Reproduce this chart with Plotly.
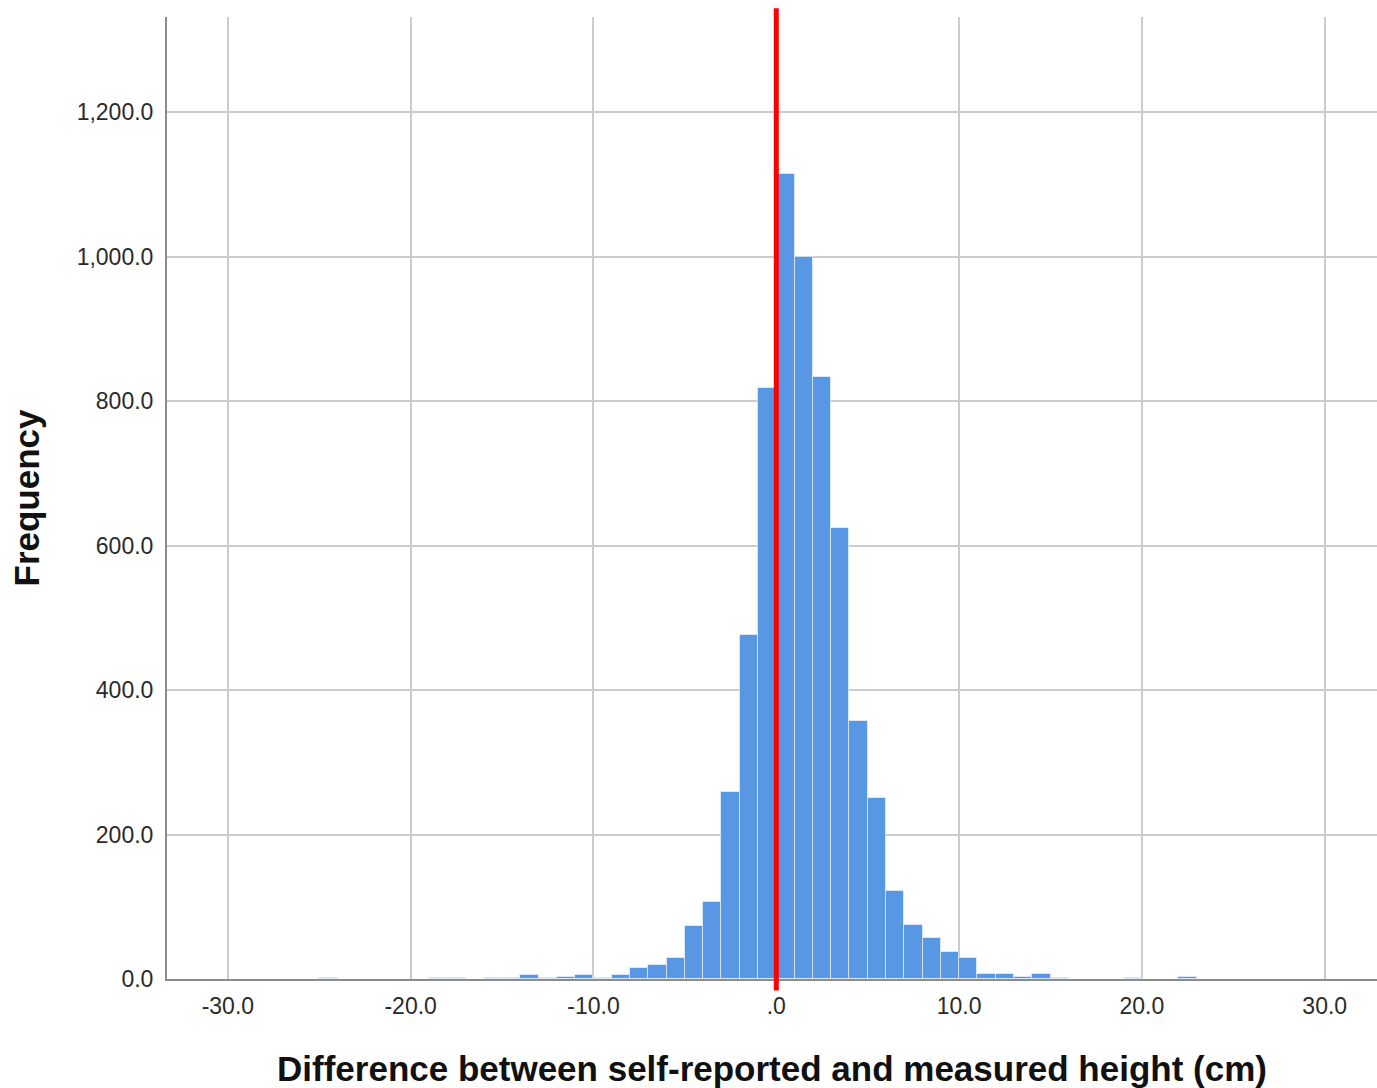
import plotly.graph_objects as go

# Histogram bins (left edge, width 1 cm) and frequencies
bin_left = [-25, -19, -18, -16, -15, -14, -13, -12, -11, -10, -9, -8, -7, -6, -5, -4, -3, -2, -1,
            0, 1, 2, 3, 4, 5, 6, 7, 8, 9, 10, 11, 12, 13, 14, 15, 19, 22]
counts = [1, 1, 1, 1, 2, 5, 1, 3, 6, 2, 5, 15, 19, 29, 74, 106, 259, 476, 819,
          1115, 1000, 834, 625, 357, 250, 122, 75, 57, 38, 29, 7, 7, 3, 7, 1, 1, 3]
bin_width = 1.0

x_ticks = [-30, -20, -10, 0, 10, 20, 30]
x_ticktext = ["-30.0", "-20.0", "-10.0", ".0", "10.0", "20.0", "30.0"]
y_ticks = [0, 200, 400, 600, 800, 1000, 1200]
y_ticktext = ["0.0", "200.0", "400.0", "600.0", "800.0", "1,000.0", "1,200.0"]
ref_x = 0

centers = [b + bin_width / 2 for b in bin_left]

fig = go.Figure()
fig.add_trace(go.Bar(
    x=centers, y=counts, width=bin_width,
    marker=dict(color="#5797e3", line=dict(color="rgba(255,255,255,0.55)", width=1)),
    hoverinfo="x+y",
))

fig.add_shape(type="line", xref="x", yref="paper", x0=ref_x, x1=ref_x, y0=-0.012, y1=1.009,
              line=dict(color="#ff0000", width=5), layer="above")

font_family = "Liberation Sans, Arial, sans-serif"
fig.update_layout(
    width=1377, height=1088,
    margin=dict(l=167, r=0, t=17, b=109),
    plot_bgcolor="white", paper_bgcolor="white",
    showlegend=False,
    bargap=0,
    font=dict(family=font_family, size=16, color="#2a2a2a"),
    xaxis=dict(
        range=[-33.33, 32.86], tickmode="array", tickvals=x_ticks, ticktext=x_ticktext,
        showgrid=True, gridcolor="#cccccc", gridwidth=1.5,
        showline=True, linecolor="#8c8c8c", linewidth=2,
        zeroline=False, ticks="outside", ticklen=5, tickcolor="rgba(0,0,0,0)",
        tickfont=dict(size=23, color="#2a2a2a"),
        title=dict(text="<b>Difference between self-reported and measured height (cm)</b>",
                   font=dict(size=35, color="#111111"), standoff=41),
    ),
    yaxis=dict(
        range=[0, 1332], tickmode="array", tickvals=y_ticks, ticktext=y_ticktext,
        showgrid=True, gridcolor="#cccccc", gridwidth=1.5,
        showline=True, linecolor="#8c8c8c", linewidth=2,
        zeroline=False, ticks="outside", ticklen=7, tickcolor="rgba(0,0,0,0)",
        tickfont=dict(size=23, color="#2a2a2a"),
        title=dict(text="<b>Frequency</b>", font=dict(size=35, color="#111111"), standoff=26),
    ),
)

fig.write_html("out.html")
